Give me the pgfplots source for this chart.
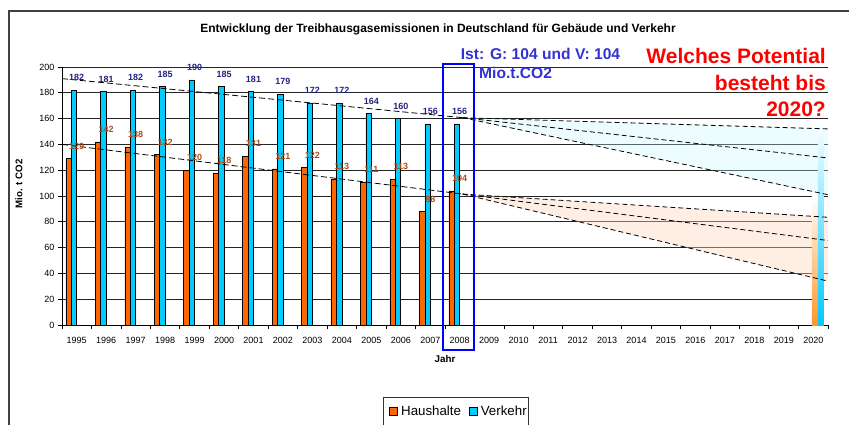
\documentclass[border=0pt]{standalone}
\usepackage{pgfplots}
\pgfplotsset{compat=1.18}
\usepackage{fontspec}
\setmainfont{Liberation Sans}
\definecolor{haus}{RGB}{255,102,0}
\definecolor{verk}{RGB}{0,204,255}
\definecolor{hausgrad}{RGB}{255,150,40}
\definecolor{verkgrad}{RGB}{0,200,255}
\definecolor{hauslab}{RGB}{175,75,25}
\definecolor{verklab}{RGB}{35,35,130}
\definecolor{istblue}{RGB}{50,50,210}
\definecolor{fanc}{RGB}{200,245,255}
\definecolor{fano}{RGB}{255,212,185}
\begin{document}
\begin{tikzpicture}
\begin{axis}[
  at={(62pt,99pt)}, anchor=south west,
  scale only axis, width=766pt, height=258pt,
  xmin=-0.5, xmax=25.5, ymin=0, ymax=200,
  axis x line*=bottom, axis y line*=left,
  axis line style={black, line width=0.9pt},
  /pgf/number format/assume math mode=true,
  xtick={0,...,25},
  xticklabels={1995,1996,1997,1998,1999,2000,2001,2002,2003,2004,2005,2006,2007,2008,2009,2010,2011,2012,2013,2014,2015,2016,2017,2018,2019,2020},
  major x tick style={draw=none},
  minor xtick={-0.5,0.5,...,25.5},
  minor x tick style={black, line width=0.8pt},
  minor tick length=4pt,
  major tick length=4pt,
  tick align=outside,
  ytick={0,20,...,200},
  y tick style={black, line width=0.8pt},
  ymajorgrids,
  major grid style={black!85, line width=0.8pt},
  ticklabel style={font=\fontsize{9}{10}\selectfont},
  xticklabel style={yshift=-5pt},
  legend image code/.code={\path (0pt,0pt) (15pt,0pt); \draw[#1, draw=black, line width=0.6pt] (6pt,-0.5pt) rectangle (14pt,7.5pt);},
  legend style={at={(axis description cs:0.419,-0.279)}, anchor=north west,
    legend columns=2, draw=black!80, line width=0.8pt,
    font=\fontsize{13.3}{15}\selectfont, inner xsep=0pt, inner ysep=6pt,
    nodes={text depth=9pt}},
]
% shaded fans
\addplot[draw=none, fill=fanc, fill opacity=0.32, forget plot] coordinates {(13.1,160.7) (25.5,152) (25.5,101)} -- cycle;
\addplot[draw=none, fill=fano, fill opacity=0.4, forget plot] coordinates {(13.1,101.5) (25.5,83.5) (25.5,34)} -- cycle;
% bars
\addplot[ybar, bar width=5.4pt, bar shift=-8.2pt, fill=haus, draw=black, line width=0.5pt, forget plot,
  nodes near coords, every node near coord/.append style={font=\bfseries\fontsize{9}{10}\selectfont, text=hauslab, inner sep=0pt, yshift=9pt}]
  coordinates {(0,129)(1,142)(2,138)(3,132)(4,120)(5,118)(6,131)(7,121)(8,122)(9,113)(10,111)(11,113)(12,88)(13,104)};
\addplot[ybar, bar width=5.4pt, bar shift=-2.8pt, fill=verk, draw=black, line width=0.5pt, forget plot,
  nodes near coords, every node near coord/.append style={font=\bfseries\fontsize{9}{10}\selectfont, text=verklab, inner sep=0pt, yshift=9pt}]
  coordinates {(0,182)(1,181)(2,182)(3,185)(4,190)(5,185)(6,181)(7,179)(8,172)(9,172)(10,164)(11,160)(12,156)(13,156)};
% 2020 gradient bars
\addplot[ybar, bar width=5.8pt, bar shift=1.6pt, draw=none, bottom color=hausgrad, top color=white, forget plot]
  coordinates {(25,100)};
\addplot[ybar, bar width=6pt, bar shift=7.6pt, draw=none, bottom color=verkgrad, top color=white, forget plot]
  coordinates {(25,158)};
% trend lines
\addplot[sharp plot, black, line width=0.8pt, dash pattern=on 6pt off 3pt, forget plot] coordinates {(-0.5,191) (13.1,160.7)};
\addplot[sharp plot, black, line width=0.8pt, dash pattern=on 6pt off 3pt, forget plot] coordinates {(-0.5,140) (13.1,101.5)};
% fan lines
\addplot[sharp plot, black, line width=0.8pt, dash pattern=on 5pt off 3pt, forget plot] coordinates {(13.1,160.7) (25.5,152)};
\addplot[sharp plot, black, line width=0.8pt, dash pattern=on 5pt off 3pt, forget plot] coordinates {(13.1,160.7) (25.5,129.5)};
\addplot[sharp plot, black, line width=0.8pt, dash pattern=on 5pt off 3pt, forget plot] coordinates {(13.1,160.7) (25.5,101)};
\addplot[sharp plot, black, line width=0.8pt, dash pattern=on 5pt off 3pt, forget plot] coordinates {(13.1,101.5) (25.5,83.5)};
\addplot[sharp plot, black, line width=0.8pt, dash pattern=on 5pt off 3pt, forget plot] coordinates {(13.1,101.5) (25.5,65.5)};
\addplot[sharp plot, black, line width=0.8pt, dash pattern=on 5pt off 3pt, forget plot] coordinates {(13.1,101.5) (25.5,34)};
\addlegendimage{fill=haus}
\addlegendentry{Haushalte}
\addlegendimage{fill=verk}
\addlegendentry{Verkehr}
\end{axis}
% frame
\draw[black!75, line width=1.2pt] (860pt,413pt) -- (9pt,413pt) -- (9pt,-10pt);
% title and labels
\node[anchor=base, font=\bfseries\fontsize{12}{14}\selectfont, inner sep=0pt] at (438pt,391.7pt) {Entwicklung der Treibhausgasemissionen in Deutschland für Gebäude und Verkehr};
\node[rotate=90, font=\bfseries\fontsize{9.7}{11}\selectfont, inner sep=0pt] at (19pt,240pt) {Mio. t CO2};
\node[font=\bfseries\fontsize{9.8}{11}\selectfont, inner sep=0pt] at (445pt,65pt) {Jahr};
\node[anchor=base west, font=\bfseries\fontsize{15.6}{18}\selectfont, text=istblue, inner sep=0pt] at (460.7pt,364pt) {Ist: G: 104 und V: 104};
\node[anchor=base west, font=\bfseries\fontsize{15.6}{18}\selectfont, text=istblue, inner sep=0pt] at (479pt,345pt) {Mio.t.CO2};
\node[anchor=base east, font=\bfseries\fontsize{21}{24}\selectfont, text=red, inner sep=0pt] at (826pt,360pt) {Welches Potential};
\node[anchor=base east, font=\bfseries\fontsize{21}{24}\selectfont, text=red, inner sep=0pt] at (826pt,334pt) {besteht bis};
\node[anchor=base east, font=\bfseries\fontsize{21}{24}\selectfont, text=red, inner sep=0pt] at (826pt,308pt) {2020?};
% highlight box around 2008
\draw[blue, line width=1.7pt] (443pt,74pt) rectangle (474pt,360pt);
\pgfresetboundingbox
\path[use as bounding box] (0pt,0pt) rectangle (849pt,424pt);
\end{tikzpicture}
\end{document}
